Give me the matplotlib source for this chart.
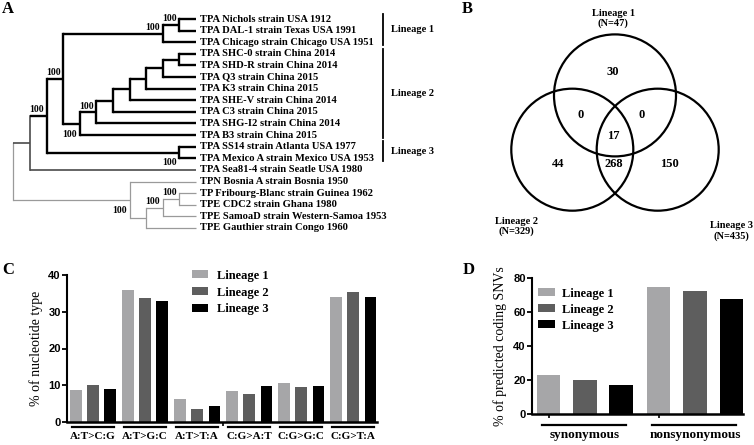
import numpy as np
import matplotlib.pyplot as plt
from matplotlib.patches import Circle
from matplotlib import transforms

plt.rcParams["font.family"] = "Liberation Serif"
plt.rcParams["font.weight"] = "bold"

W, H, DPI = 754, 445, 100

# ---------------- panel A: tree topology (label, label side, children) ----------------
tree = ("", None, [
    ("", None, [
        ("100", "above", [
            ("100", "above", [
                ("100", "above", [
                    ("100", "above", ["TPA Nichols strain USA 1912", "TPA DAL-1 strain Texas USA 1991"]),
                    "TPA Chicago strain Chicago USA 1951"]),
                ("100", "below", [
                    ("100", "above", [
                        ("", None, [
                            ("", None, [
                                ("", None, [
                                    ("", None, [
                                        ("", None, ["TPA SHC-0 strain China 2014", "TPA SHD-R strain China 2014"]),
                                        "TPA Q3 strain China 2015"]),
                                    "TPA K3 strain China 2015"]),
                                "TPA SHE-V strain China 2014"]),
                            "TPA C3 strain China 2015"]),
                        "TPA SHG-I2 strain China 2014"]),
                    "TPA B3 strain China 2015"]),
            ]),
            ("100", "below", ["TPA SS14 strain Atlanta USA 1977", "TPA Mexico A strain Mexico USA 1953"]),
        ]),
        "TPA Sea81-4 strain Seatle USA 1980",
    ]),
    ("100", "below", [
        "TPN Bosnia A strain Bosnia 1950",
        ("", None, [
            ("100", "above", [
                ("100", "above", ["TP Fribourg-Blanc strain Guinea 1962", "TPE CDC2 strain Ghana 1980"]),
                "TPE SamoaD strain Western-Samoa 1953"]),
            "TPE Gauthier strain Congo 1960"]),
    ]),
])

lineage_names = ["Lineage 1", "Lineage 2", "Lineage 3"]
lineage_leaves = [(0, 2), (3, 10), (11, 12)]

# ---------------- panel B: Venn counts ----------------
venn_regions = ["100", "110", "101", "111", "010", "011", "001"]
venn_counts = [30, 0, 0, 17, 44, 268, 150]
venn_n = [47, 329, 435]

# ---------------- panel C ----------------
mut_types = ["A:T>C:G", "A:T>G:C", "A:T>T:A", "C:G>A:T", "C:G>G:C", "C:G>T:A"]
mut_l1 = [8.6, 36.0, 6.3, 8.5, 10.5, 34.0]
mut_l2 = [10.0, 33.7, 3.6, 7.6, 9.4, 35.5]
mut_l3 = [9.0, 32.8, 4.3, 9.9, 9.9, 34.0]

# ---------------- panel D ----------------
snv_types = ["synonymous", "nonsynonymous"]
snv_l1 = [23.1, 74.5]
snv_l2 = [19.8, 72.1]
snv_l3 = [17.1, 67.9]

colors = ["#a6a6a8", "#5e5e5e", "#000000"]
sans = "Liberation Sans"

fig = plt.figure(figsize=(W / DPI, H / DPI), dpi=DPI)


def px_axes(x0, y0, x1, y1):
    return fig.add_axes([x0 / W, 1 - y1 / H, (x1 - x0) / W, (y1 - y0) / H])


# panel letters
for letter, (px, py) in zip("ABCD", [(2, 1), (462, 1), (2, 262), (463, 262)]):
    fig.text(px / W, 1 - py / H, letter, fontsize=12, va="top", ha="left")

# ======================================================
# A) tree
# ======================================================
leaves = []


def layout(node):
    if isinstance(node, str):
        leaves.append(node)
        return {"leaf": node, "y": len(leaves) - 1, "h": 0, "kids": [], "names": [node]}
    label, side, kids = node
    ks = [layout(k) for k in kids]
    return {"label": label, "side": side, "kids": ks,
            "y": (ks[0]["y"] + ks[-1]["y"]) / 2,
            "h": 1 + max(k["h"] for k in ks),
            "names": sum((k["names"] for k in ks), [])}


root = layout(tree)
depth = root["h"]
core = set(leaves[lineage_leaves[0][0]:lineage_leaves[-1][1] + 1])

styles = {"core": ("black", 1.7), "tpa": ("#4a4a4a", 1.2), "out": ("#9a9a9a", 0.9)}


def klass(n):
    if all(s in core for s in n["names"]):
        return "core"
    if all(s.startswith("TPA ") for s in n["names"]):
        return "tpa"
    return "out"


axa = px_axes(13.4, 19, 196, 228)
axa.set_xlim(0, depth)
axa.set_ylim(len(leaves) - 1, 0)
axa.axis("off")


def draw(n):
    x = depth - n["h"]
    if not n["kids"]:
        axa.annotate(n["leaf"], (x, n["y"]), xytext=(3, 0), textcoords="offset points",
                     va="center", ha="left", fontsize=7.6, annotation_clip=False)
        return
    c, lw = styles[klass(n)]
    axa.plot([x, x], [n["kids"][0]["y"], n["kids"][-1]["y"]], color=c, lw=lw,
             solid_capstyle="projecting", clip_on=False)
    for k in n["kids"]:
        kc, klw = styles[klass(k)]
        axa.plot([x, depth - k["h"]], [k["y"], k["y"]], color=kc, lw=klw,
                 solid_capstyle="butt", clip_on=False)
        draw(k)
    if n["label"]:
        dy = 4.3 if n["side"] == "above" else -7.5
        axa.annotate(n["label"], (x, n["y"]), xytext=(-2, dy), textcoords="offset points",
                     va="center", ha="right", fontsize=7, annotation_clip=False)


draw(root)

bt = transforms.blended_transform_factory(fig.transFigure, axa.transData)
for name, (a, b) in zip(lineage_names, lineage_leaves):
    axa.plot([383 / W, 383 / W], [a - 0.45, b + 0.25], transform=bt, color="black",
             lw=1.3, clip_on=False)
    axa.text(391 / W, (a + b) / 2 - 0.1, name, transform=bt, va="center", ha="left",
             fontsize=7.5)

# ======================================================
# B) Venn
# ======================================================
r = 61.0
cx, cy = 615, 132
axb = px_axes(470, 0, 754, 255)
axb.set_xlim((470 - cx) / r, (754 - cx) / r)
axb.set_ylim((cy - 255) / r, (cy - 0) / r)
axb.axis("off")

centers = [(0.0, 0.6), (-0.7, -0.29), (0.7, -0.29)]
for c in centers:
    axb.add_patch(Circle(c, 1.0, fill=False, ec="black", lw=1.6))

region_xy = {"100": (-0.03, 0.98), "110": (-0.57, 0.28), "101": (0.44, 0.28),
             "111": (-0.03, -0.07), "010": (-0.93, -0.52), "011": (-0.02, -0.52),
             "001": (0.90, -0.52)}
for reg, cnt in zip(venn_regions, venn_counts):
    axb.text(*region_xy[reg], str(cnt), ha="center", va="center", fontsize=9)

set_xy = [(-0.03, 1.86), (-1.61, -1.55), (1.91, -1.62)]
for (sx, sy), name, n in zip(set_xy, lineage_names, venn_n):
    axb.text(sx, sy, f"{name}\n(N={n})", ha="center", va="center", fontsize=7.5,
             linespacing=1.15)


def style_bar_axes(ax, yticks):
    ax.spines["top"].set_visible(False)
    ax.spines["right"].set_visible(False)
    ax.spines["left"].set_linewidth(1.5)
    ax.spines["bottom"].set_linewidth(1.8)
    ax.set_yticks(yticks)
    ax.tick_params(axis="y", direction="out", length=3.5, width=1.3, pad=1)
    for t in ax.get_yticklabels():
        t.set_fontfamily(sans)
        t.set_fontsize(8)
        t.set_fontweight("bold")


# ======================================================
# C) nucleotide type bars
# ======================================================
axc = px_axes(67, 275, 377, 422)
xc = np.arange(len(mut_types))
for vals, col, o, name in zip([mut_l1, mut_l2, mut_l3], colors, [-1, 0, 1], lineage_names):
    axc.bar(xc + o * 0.333, vals, width=0.225, color=col, label=name)
axc.set_xlim(-0.5, 5.46)
axc.set_ylim(0, 40)
style_bar_axes(axc, [0, 10, 20, 30, 40])
axc.set_xticks(xc)
axc.set_xticklabels(mut_types, fontsize=8)
axc.tick_params(axis="x", length=0, pad=7)
axc.set_xticks([2.5], minor=True)
axc.tick_params(axis="x", which="minor", length=3, width=1.2, direction="out")
tc = transforms.blended_transform_factory(axc.transData, axc.transAxes)
for g in xc:
    axc.plot([g - 0.41, g + 0.41], [-0.032, -0.032], transform=tc, color="black",
             lw=1.6, clip_on=False)
axc.set_ylabel("% of nucleotide type", fontsize=10)
axc.yaxis.set_label_coords(-0.077, 0.5)
axc.legend(loc="upper left", bbox_to_anchor=(0.403, 1.035), frameon=False, fontsize=9,
           borderpad=0, borderaxespad=0, handlelength=1.3, handleheight=0.6,
           handletextpad=0.7, labelspacing=0.38)

# ======================================================
# D) coding SNV bars
# ======================================================
axd = px_axes(532, 278, 743, 414)
xd = np.arange(len(snv_types))
for vals, col, o, name in zip([snv_l1, snv_l2, snv_l3], colors, [-1, 0, 1], lineage_names):
    axd.bar(xd + o * 0.33, vals, width=0.214, color=col, label=name)
axd.set_xlim(-0.48, 1.436)
axd.set_ylim(0, 80)
style_bar_axes(axd, [0, 20, 40, 60, 80])
axd.set_xticks(xd)
axd.set_xticklabels(snv_types, fontsize=9.5)
axd.tick_params(axis="x", length=0, pad=11)
axd.set_xticks(xd - 0.33, minor=True)
axd.tick_params(axis="x", which="minor", length=3, width=1.2, direction="out")
td = transforms.blended_transform_factory(axd.transData, axd.transAxes)
for g in xd:
    axd.plot([g - 0.39, g + 0.37], [-0.08, -0.08], transform=td, color="black",
             lw=1.6, clip_on=False)
axd.set_ylabel("% of predicted coding SNVs", fontsize=10)
axd.yaxis.set_label_coords(-0.118, 0.5)
axd.legend(loc="upper left", bbox_to_anchor=(0.028, 0.93), frameon=False, fontsize=9,
           borderpad=0, borderaxespad=0, handlelength=1.35, handleheight=0.6,
           handletextpad=0.6, labelspacing=0.33)

fig.savefig("out.png", dpi=DPI)
